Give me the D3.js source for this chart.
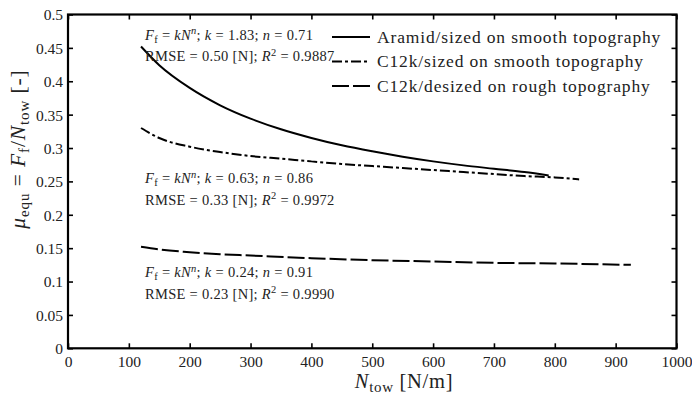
<!DOCTYPE html>
<html>
<head>
<meta charset="utf-8">
<script src="https://cdn.jsdelivr.net/npm/d3@7.9.0/dist/d3.min.js"></script>
<style>
  body { margin: 0; background: #fff; }
  svg text { font-family: "Liberation Serif", "DejaVu Serif", serif; fill: #222; }
</style>
</head>
<body>
<svg id="chart" width="692" height="394"></svg>
<script>
// values
const aramidN  = [120, 150, 200, 250, 300, 350, 400, 450, 500, 550, 600, 650, 700, 750, 790];
const aramidMu = [0.452, 0.424, 0.390, 0.364, 0.344, 0.328, 0.315, 0.304, 0.295, 0.287, 0.280, 0.274, 0.269, 0.264, 0.259];
const sizedN   = [120, 150, 200, 250, 300, 350, 400, 450, 500, 550, 600, 650, 700, 750, 800, 840];
const sizedMu  = [0.330, 0.315, 0.302, 0.294, 0.288, 0.284, 0.280, 0.276, 0.273, 0.270, 0.267, 0.264, 0.261, 0.258, 0.256, 0.253];
const desizedN  = [120, 150, 200, 250, 300, 400, 500, 600, 700, 800, 925];
const desizedMu = [0.152, 0.148, 0.144, 0.141, 0.139, 0.135, 0.132, 0.130, 0.128, 0.127, 0.125];

const seriesNames = ["Aramid/sized on smooth topography", "C12k/sized on smooth topography", "C12k/desized on rough topography"];
const fitK = ["1.83", "0.63", "0.24"];
const fitN = ["0.71", "0.86", "0.91"];
const fitRMSE = ["0.50", "0.33", "0.23"];
const fitR2 = ["0.9887", "0.9972", "0.9990"];

const xTicks = d3.range(0, 1001, 100);
const yTicks = d3.range(0, 0.5001, 0.05);

const margin = {left: 68, right: 15.5, top: 14.5, bottom: 45.7};
const W = 692, H = 394;
const FONT = '"Liberation Serif", "DejaVu Serif", serif';
const svg = d3.select('#chart');

const x = d3.scaleLinear().domain([0, 1000]).range([margin.left, W - margin.right]);
const y = d3.scaleLinear().domain([0, 0.5]).range([H - margin.bottom, margin.top]);

const series = [
  {N: aramidN, mu: aramidMu, dash: null},
  {N: sizedN, mu: sizedMu, dash: "10,3,3,3"},
  {N: desizedN, mu: desizedMu, dash: "17,4"}
];

// curves
const line = d3.line().x(d => x(d[0])).y(d => y(d[1])).curve(d3.curveMonotoneX);
series.forEach(s => {
  svg.append('path')
    .attr('d', line(d3.zip(s.N, s.mu)))
    .attr('fill', 'none')
    .attr('stroke', '#000')
    .attr('stroke-width', 2)
    .attr('stroke-dasharray', s.dash);
});

// axes, ticks inward on all four sides
const fmtY = d => d === 0 ? "0" : d3.format(".2~f")(d);
const tickLen = 5;
const gB = svg.append('g').attr('transform', `translate(0,${y(0)})`)
  .call(d3.axisBottom(x).tickValues(xTicks).tickSizeInner(-tickLen).tickSizeOuter(0).tickPadding(7.5).tickFormat(d3.format('d')));
const gT = svg.append('g').attr('transform', `translate(0,${y(0.5)})`)
  .call(d3.axisTop(x).tickValues(xTicks).tickSizeInner(-tickLen).tickSizeOuter(0).tickFormat(''));
const gL = svg.append('g').attr('transform', `translate(${x(0)},0)`)
  .call(d3.axisLeft(y).tickValues(yTicks).tickSizeInner(-tickLen).tickSizeOuter(0).tickPadding(5).tickFormat(fmtY));
const gR = svg.append('g').attr('transform', `translate(${x(1000)},0)`)
  .call(d3.axisRight(y).tickValues(yTicks).tickSizeInner(-tickLen).tickSizeOuter(0).tickFormat(''));
[gB, gT, gL, gR].forEach(g => {
  g.attr('font-family', FONT);
  g.select('.domain').remove();
  g.selectAll('.tick line').attr('stroke', '#000').attr('stroke-width', 1.6);
  g.selectAll('text').style('font-family', FONT).style('font-size', '15.5px').attr('fill', '#222');
});
gB.selectAll('text').attr('dy', '0.75em');
gL.selectAll('text').attr('dy', '0.35em');

svg.append('rect')
  .attr('x', x(0)).attr('y', y(0.5))
  .attr('width', x(1000) - x(0)).attr('height', y(0) - y(0.5))
  .attr('fill', 'none').attr('stroke', '#000').attr('stroke-width', 2.2);

// axis titles
const xt = svg.append('text').attr('x', 404).attr('y', 388).attr('text-anchor', 'middle')
  .style('font-family', FONT).style('font-size', '20.5px').style('letter-spacing', '0.7px');
xt.append('tspan').attr('font-style', 'italic').text('N');
xt.append('tspan').attr('dy', 4).style('font-size', '15px').text('tow');
xt.append('tspan').attr('dy', -4).text(' [N/m]');

const yt = svg.append('text').attr('transform', 'translate(25,149) rotate(-90)').attr('text-anchor', 'middle')
  .style('font-family', FONT).style('font-size', '21.5px').style('letter-spacing', '0.9px');
yt.append('tspan').attr('font-style', 'italic').text('μ');
yt.append('tspan').attr('dy', 4).style('font-size', '15px').text('equ');
yt.append('tspan').attr('dy', -4).text(' = ');
yt.append('tspan').attr('font-style', 'italic').text('F');
yt.append('tspan').attr('dy', 4).style('font-size', '15px').text('f');
yt.append('tspan').attr('dy', -4).text('/');
yt.append('tspan').attr('font-style', 'italic').text('N');
yt.append('tspan').attr('dy', 4).style('font-size', '15px').text('tow');
yt.append('tspan').attr('dy', -4).text(' [-]');

// fit annotations
const annoY = [39.5, 183, 277];
annoY.forEach((ay, i) => {
  const t1 = svg.append('text').attr('x', 145).attr('y', ay)
    .style('font-family', FONT).style('font-size', '14.5px').style('letter-spacing', '0.3px');
  t1.append('tspan').attr('font-style', 'italic').text('F');
  t1.append('tspan').attr('dy', 3).style('font-size', '10.5px').text('f');
  t1.append('tspan').attr('dy', -3).text(' = ');
  t1.append('tspan').attr('font-style', 'italic').text('kN');
  t1.append('tspan').attr('dy', -5.5).style('font-size', '10.5px').attr('font-style', 'italic').text('n');
  t1.append('tspan').attr('dy', 5.5).text('; ');
  t1.append('tspan').attr('font-style', 'italic').text('k');
  t1.append('tspan').text(` = ${fitK[i]}; `);
  t1.append('tspan').attr('font-style', 'italic').text('n');
  t1.append('tspan').text(` = ${fitN[i]}`);

  const t2 = svg.append('text').attr('x', 145).attr('y', ay + 21.5)
    .style('font-family', FONT).style('font-size', '14.5px').style('letter-spacing', '0.3px');
  t2.append('tspan').text(`RMSE = ${fitRMSE[i]} [N]; `);
  t2.append('tspan').attr('font-style', 'italic').text('R');
  t2.append('tspan').attr('dy', -5.5).style('font-size', '10.5px').text('2');
  t2.append('tspan').attr('dy', 5.5).text(` = ${fitR2[i]}`);
});

// legend
const legY = [37, 61.5, 86];
series.forEach((s, i) => {
  svg.append('line')
    .attr('x1', 332).attr('x2', 370).attr('y1', legY[i]).attr('y2', legY[i])
    .attr('stroke', '#000').attr('stroke-width', 2)
    .attr('stroke-dasharray', s.dash);
  svg.append('text').attr('x', 377).attr('y', legY[i]).attr('dy', '0.33em')
    .style('font-family', FONT).style('font-size', '17.5px').style('letter-spacing', '0.85px')
    .text(seriesNames[i]);
});
</script>
</body>
</html>
